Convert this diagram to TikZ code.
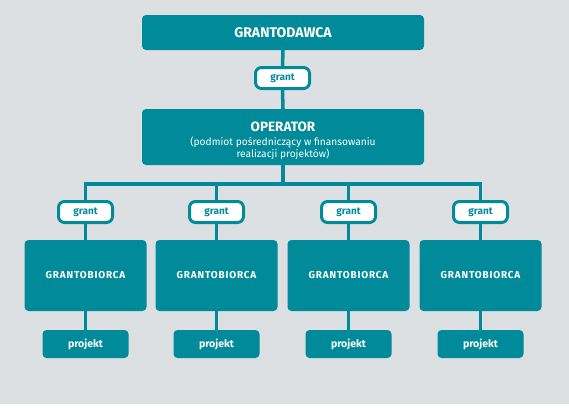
\documentclass[tikz,border=0pt]{standalone}
\usepackage{fontspec}
\setmainfont{Fira Sans}
\newfontfamily\spacedfont[LetterSpace=8]{Fira Sans}
\definecolor{teal1}{HTML}{008A9A}
\definecolor{bgc}{HTML}{DDE0E3}
\begin{document}
\begin{tikzpicture}[x=1pt,y=-1pt,
  box/.style={fill=teal1, rounded corners=4pt, text=white, align=center, inner sep=0pt},
  grantbox/.style={draw=teal1, line width=3pt, fill=white, rounded corners=6pt, minimum width=54pt, minimum height=21pt, inner sep=0pt, text=teal1, font=\bfseries\fontsize{10}{12}\selectfont},
  benef/.style={box, minimum width=122pt, minimum height=71pt, font=\spacedfont\bfseries\fontsize{10}{12}\selectfont},
  proj/.style={box, minimum width=86pt, minimum height=28pt, font=\bfseries\fontsize{10.5}{12}\selectfont},
  conn/.style={draw=teal1, line width=3.5pt, line join=miter}]
\fill[white] (0,0) rectangle (569,407);
\fill[bgc] (0,0) rectangle (569,404);
\useasboundingbox (0,0) rectangle (569,407);

\node[box, minimum width=282pt, minimum height=35pt, font=\bfseries\fontsize{14}{16}\selectfont] (gd) at (283,32.5) {GRANTODAWCA};
\node[grantbox] (g0) at (282.5,78) {grant};
\node[box, minimum width=282pt, minimum height=56pt,
  label={[name=optext, yshift=-3.5pt, align=center, text=white, inner sep=0pt]center:
   {\bfseries\fontsize{13.5}{15}\selectfont OPERATOR}\\[2pt]
   {\fontsize{10.2}{13}\selectfont (podmiot pośredniczący w finansowaniu}\\
   {\fontsize{10.2}{13}\selectfont realizacji projektów)}}] (op) at (283,137) {};

\foreach \i/\x in {1/85.5,2/216.5,3/348.5,4/480.5}{
  \node[grantbox] (g\i) at (\x,212) {grant};
  \node[benef] (b\i) at (\x,275.5) {GRANTOBIORCA};
  \node[proj] (p\i) at (\x,344) {projekt};
}
\coordinate (bus) at (283,184);

\draw[conn] (gd.south) -- (g0.north);
\draw[conn] (g0.south) -- (op.north);
\draw[conn] (op.south) -- (op.south |- bus);
\draw[conn] (g1.north) |- (g4.north |- bus) -- (g4.north);
\draw[conn] (g2.north) -- (g2.north |- bus);
\draw[conn] (g3.north) -- (g3.north |- bus);
\foreach \i in {1,2,3,4}{
  \draw[conn] (g\i.south) -- (b\i.north);
  \draw[conn] (b\i.south) -- (p\i.north);
}
\end{tikzpicture}
\end{document}
